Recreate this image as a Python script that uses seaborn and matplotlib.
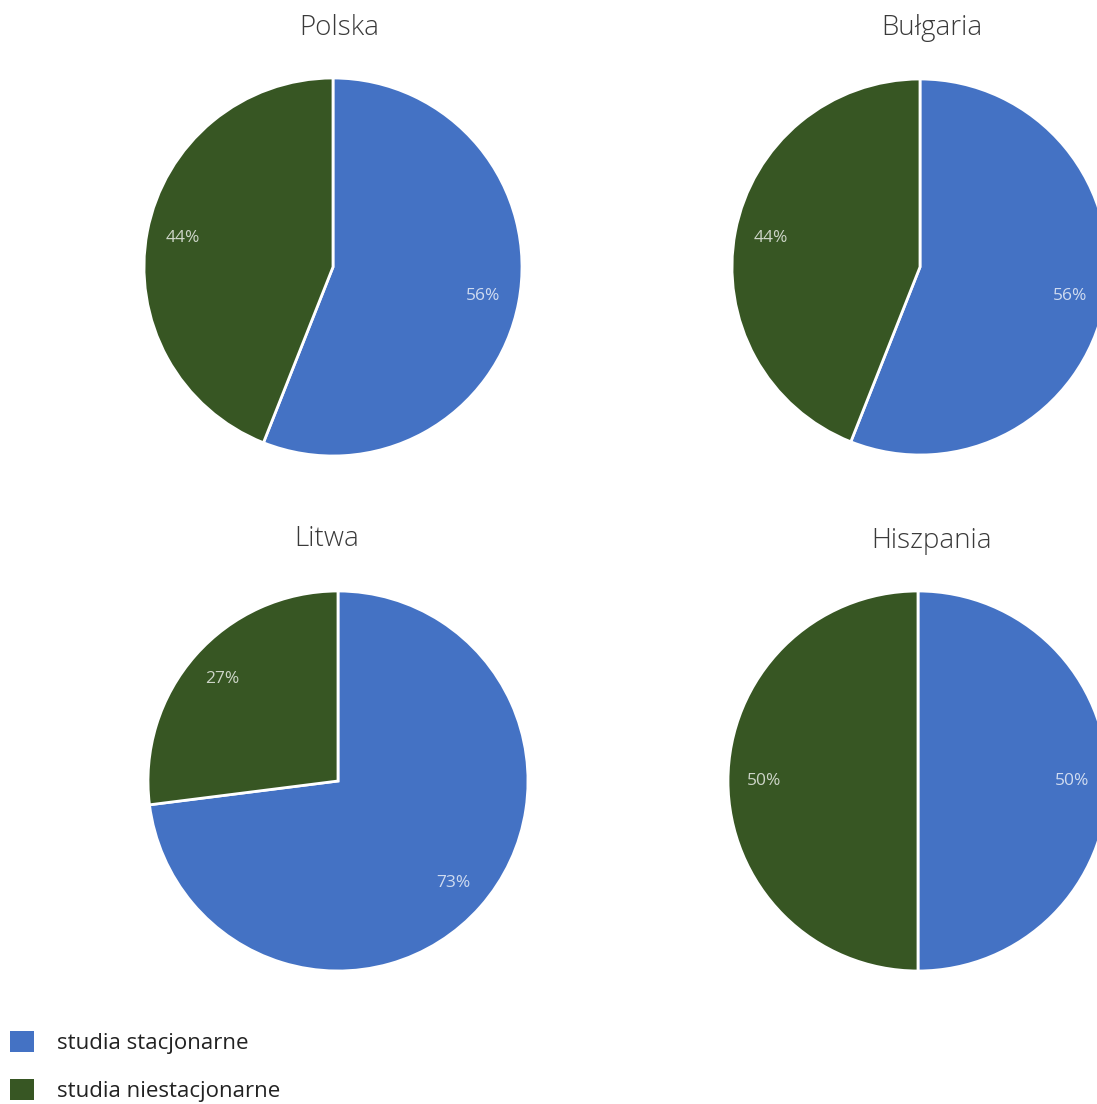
import matplotlib
matplotlib.use("Agg")
import matplotlib.pyplot as plt
from matplotlib.patches import Patch
import seaborn as sns

countries = ["Polska", "Bułgaria", "Litwa", "Hiszpania"]
stacjonarne = [56, 56, 73, 50]
niestacjonarne = [44, 44, 27, 50]
series_labels = ["studia stacjonarne", "studia niestacjonarne"]

colors = ["#4472C4", "#375623"]

W, H = 1097, 1104
# pie centre (px), radius (px), title position (px)
layout = [
    ((333, 267), 189, (339, 28)),
    ((920, 267), 188, (932, 28)),
    ((338, 781), 190, (327, 539)),
    ((918, 781), 190, (931, 541)),
]

sns.set_theme(style="white")
plt.rcParams['font.family'] = ['Open Sans', 'DejaVu Sans']

fig = plt.figure(figsize=(W / 100, H / 100), dpi=100)

for i, name in enumerate(countries):
    (cx, cy), r, (tx, ty) = layout[i]
    ax = fig.add_axes([(cx - r) / W, 1 - (cy + r) / H, 2 * r / W, 2 * r / H])
    vals = [stacjonarne[i], niestacjonarne[i]]
    ax.pie(
        vals, colors=colors, startangle=90, counterclock=False,
        autopct='%d%%', pctdistance=0.81, radius=1,
        wedgeprops=dict(edgecolor="white", linewidth=2),
        textprops=dict(color="white", fontsize=12.5, alpha=0.75),
    )
    ax.set_xlim(-1.0, 1.0)
    ax.set_ylim(-1.0, 1.0)
    ax.axis('off')
    fig.text(tx / W, 1 - ty / H, name, ha='center', va='center',
             fontsize=20, color="#3a3a3a", fontweight='light')

handles = [Patch(facecolor=c, edgecolor='none') for c in colors]
fig.legend(handles, series_labels, loc='upper left',
           bbox_to_anchor=(10 / W, 1 - 1031 / H), frameon=False,
           fontsize=16, handlelength=1.1, handleheight=1.1,
           handletextpad=1.0, labelspacing=1.1, borderpad=0,
           borderaxespad=0, labelcolor="#222222")

fig.savefig("out.png", dpi=100)
